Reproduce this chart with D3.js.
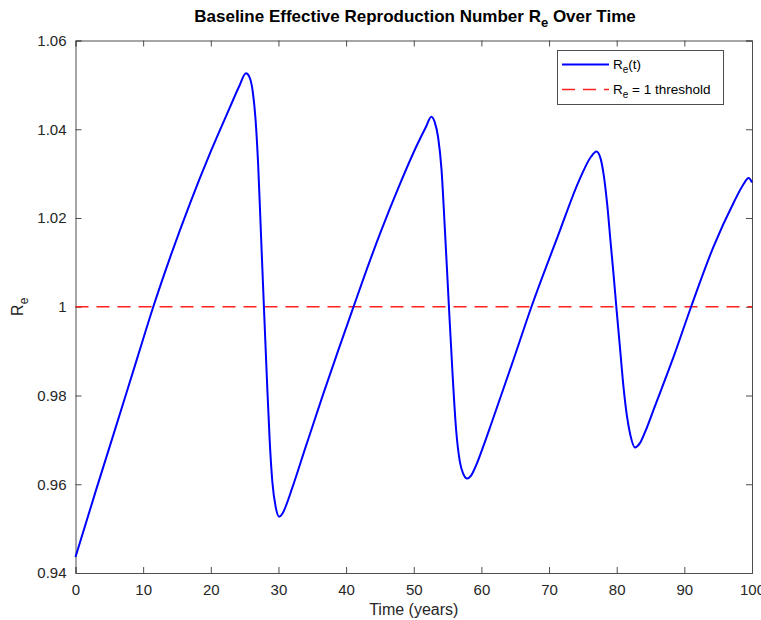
<!DOCTYPE html>
<html>
<head>
<meta charset="utf-8">
<script src="https://cdn.jsdelivr.net/npm/d3@7"></script>
<style>
  body { margin: 0; background: #fff; }
  text { font-family: "Liberation Sans", Arial, Helvetica, sans-serif; fill: #262626; }
</style>
</head>
<body>
<script>
// time (years) and Re(t)
var years = [0, 3, 6, 9, 11.5, 14, 17, 20, 22.9, 24.2, 25.2, 25.7, 26.2, 26.6, 27.0, 27.4, 27.85,
  28.3, 28.7, 29.1, 29.6, 30.1, 30.6, 31.2, 32, 34, 36.5, 38.8, 41.1, 43, 45.1, 48, 50.5, 51.8, 52.6,
  53.1, 53.6, 54.1, 54.6, 55.2, 55.75, 56.25, 56.8, 57.3, 57.9, 58.5, 59.2, 60.2, 61.5, 64.5, 67.4, 71.2,
  74.6, 76.2, 77.0, 77.6, 78.1, 78.6, 79.1, 79.55, 80.0, 80.5, 81.0, 81.5, 82.0, 82.7, 83.4, 84.2,
  85.5, 88.4, 91.0, 94.3, 97.3, 98.7, 99.5, 100];
var reValues = [0.9436, 0.9585, 0.9731, 0.9878, 1.0, 1.0112, 1.0236, 1.0350, 1.0452, 1.0497, 1.0526,
  1.0518, 1.0485, 1.0425, 1.0320, 1.0170, 1.0, 0.9835, 0.9700, 0.9605, 0.9548, 0.9527, 0.9534, 0.9555,
  0.9590, 0.9683, 0.9798, 0.9900, 1.0, 1.0082, 1.0168, 1.0278, 1.0365, 1.0405, 1.0428,
  1.0416, 1.0382, 1.0310, 1.0175, 1.0, 0.9845, 0.9725, 0.9652, 0.9624, 0.9613, 0.9620, 0.9642, 0.9682,
  0.9738, 0.9870, 1.0, 1.0155, 1.0290, 1.0338, 1.0350, 1.0335, 1.0295, 1.0230, 1.0145, 1.0070, 0.9990,
  0.9905, 0.9820, 0.9755, 0.9712, 0.9683, 0.9692, 0.9718, 0.9770, 0.9887, 1.0, 1.0135, 1.0235, 1.0275,
  1.0290, 1.0280];
var threshold = 1;
var xTicks = [0, 10, 20, 30, 40, 50, 60, 70, 80, 90, 100];
var yTicks = [0.94, 0.96, 0.98, 1, 1.02, 1.04, 1.06];

var width = 761;
var height = 620;
var padLeft = 75.5, padRight = 752, padTop = 40.5, padBottom = 573;

var svg = d3.select("body").append("svg")
    .attr("width", width)
    .attr("height", height);

var xScale = d3.scaleLinear().domain([0, 100]).range([padLeft, padRight]);
var yScale = d3.scaleLinear().domain([0.94, 1.06]).range([padBottom, padTop]);

var data = years.map(function(t, i) { return {t: t, v: reValues[i]}; });

// axes (MATLAB style: ticks inside, box on)
var tickLen = 6;
svg.append("g")
    .attr("transform", "translate(0," + padBottom + ")")
    .call(d3.axisBottom(xScale).tickValues(xTicks).tickSize(-tickLen).tickPadding(11)
      .tickFormat(d3.format("d")))
    .call(function(g) {
      g.selectAll("text").style("font-size", "15px");
    });
svg.append("g")
    .attr("transform", "translate(0," + padTop + ")")
    .call(d3.axisTop(xScale).tickValues(xTicks).tickSize(-tickLen).tickFormat(""));
svg.append("g")
    .attr("transform", "translate(" + padLeft + ",0)")
    .call(d3.axisLeft(yScale).tickValues(yTicks).tickSize(-tickLen).tickPadding(9)
      .tickFormat(function(d) { return String(+d.toFixed(2)); }))
    .call(function(g) {
      g.selectAll("text").style("font-size", "15px");
    });
svg.append("g")
    .attr("transform", "translate(" + padRight + ",0)")
    .call(d3.axisRight(yScale).tickValues(yTicks).tickSize(-tickLen).tickFormat(""));

svg.selectAll(".domain, .tick line").attr("stroke", "#4d4d4d");

// threshold line
svg.append("line")
    .attr("x1", xScale(0)).attr("x2", xScale(100))
    .attr("y1", yScale(threshold)).attr("y2", yScale(threshold))
    .attr("stroke", "#ff2020")
    .attr("stroke-width", 1.6)
    .attr("stroke-dasharray", "13,8");

// Re(t) curve
var line = d3.line()
    .x(function(d) { return xScale(d.t); })
    .y(function(d) { return yScale(d.v); })
    .curve(d3.curveMonotoneX);

svg.append("path")
    .datum(data)
    .attr("fill", "none")
    .attr("stroke", "#0000ff")
    .attr("stroke-width", 2)
    .attr("d", line);

// title
var title = svg.append("text")
    .attr("x", 415)
    .attr("y", 22)
    .attr("text-anchor", "middle")
    .style("font-size", "17px")
    .style("font-weight", "bold")
    .style("fill", "#000");
title.append("tspan").text("Baseline Effective Reproduction Number R");
title.append("tspan").attr("dy", 5).style("font-size", "13px").text("e");
title.append("tspan").attr("dy", -5).text(" Over Time");

// axis labels
svg.append("text")
    .attr("x", (padLeft + padRight) / 2)
    .attr("y", 615)
    .attr("text-anchor", "middle")
    .style("font-size", "16px")
    .text("Time (years)");

var yl = svg.append("text")
    .attr("transform", "translate(23," + yScale(1) + ") rotate(-90)")
    .attr("text-anchor", "middle")
    .style("font-size", "16px");
yl.append("tspan").text("R");
yl.append("tspan").attr("dy", 5).style("font-size", "12px").text("e");

// legend
var lg = svg.append("g");
lg.append("rect")
    .attr("x", 557.5).attr("y", 50.5)
    .attr("width", 166).attr("height", 54)
    .attr("fill", "#fff")
    .attr("stroke", "#4d4d4d")
    .attr("stroke-width", 1);
lg.append("line")
    .attr("x1", 562).attr("x2", 609).attr("y1", 64.5).attr("y2", 64.5)
    .attr("stroke", "#0000ff").attr("stroke-width", 2);
lg.append("line")
    .attr("x1", 562).attr("x2", 609).attr("y1", 89.5).attr("y2", 89.5)
    .attr("stroke", "#ff2020").attr("stroke-width", 1.6)
    .attr("stroke-dasharray", "13,8");

var l1 = lg.append("text").attr("x", 613).attr("y", 68.5).style("font-size", "13.5px").style("fill", "#000");
l1.append("tspan").text("R");
l1.append("tspan").attr("dy", 4).style("font-size", "10px").text("e");
l1.append("tspan").attr("dy", -4).text("(t)");

var l2 = lg.append("text").attr("x", 613).attr("y", 93.5).style("font-size", "13.5px").style("fill", "#000");
l2.append("tspan").text("R");
l2.append("tspan").attr("dy", 4).style("font-size", "10px").text("e");
l2.append("tspan").attr("dy", -4).text(" = 1 threshold");
</script>
</body>
</html>
